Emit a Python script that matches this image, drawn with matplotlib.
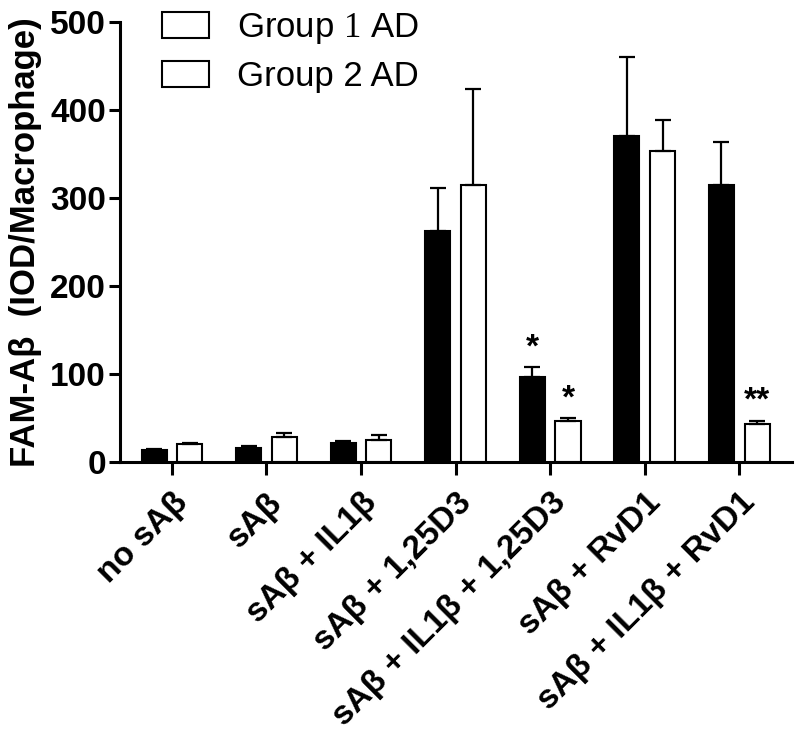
import matplotlib
matplotlib.use("Agg")
import matplotlib.pyplot as plt
import numpy as np
from matplotlib.patches import Patch

plt.rcParams['font.family'] = ['Liberation Sans', 'DejaVu Sans']

categories = ["no sAβ", "sAβ", "sAβ + IL1β", "sAβ + 1,25D3",
              "sAβ + IL1β + 1,25D3", "sAβ + RvD1", "sAβ + IL1β + RvD1"]
group1 = [14, 16, 21, 262, 97, 370, 315]
group1_err = [1, 2, 3, 49, 11, 90, 49]
group2 = [20, 28, 25, 315, 46, 354, 43]
group2_err = [2, 5, 6, 109, 4, 35, 4]
series_names = ["Group 1 AD", "Group 2 AD"]
annot1 = ["", "", "", "", "*", "", ""]
annot2 = ["", "", "", "", "*", "", "**"]
yticks = [0, 100, 200, 300, 400, 500]

fig = plt.figure(figsize=(8.0, 7.39), dpi=100)
ax = fig.add_axes([0.15, 0.375, 0.84, 0.595])

x = np.arange(len(categories))
off = 0.19
w = 0.265
ekw = dict(elinewidth=1.6, capthick=1.6, ecolor='black')
ax.bar(x - off, group1, w, color='black', edgecolor='black', linewidth=1.5,
       yerr=[np.zeros(len(x)), group1_err], capsize=5.5, error_kw=ekw, zorder=2)
ax.bar(x + off, group2, w, color='white', edgecolor='black', linewidth=1.5,
       yerr=[np.zeros(len(x)), group2_err], capsize=5.5, error_kw=ekw, zorder=2)

for i in range(len(x)):
    if annot1[i]:
        ax.text(x[i] - off, group1[i] + group1_err[i] + 4, annot1[i], ha='center', va='bottom',
                fontsize=24, fontweight='bold')
    if annot2[i]:
        ax.text(x[i] + off, group2[i] + group2_err[i] + 4, annot2[i], ha='center', va='bottom',
                fontsize=24, fontweight='bold')

ax.set_xlim(-0.55, 6.56)
ax.set_ylim(0, 500)
ax.set_yticks(yticks)
ax.set_yticklabels([str(t) for t in yticks], fontsize=24, fontweight='bold')
ax.set_xticks(x)
ax.set_xticklabels(categories, rotation=45, ha='right', rotation_mode='anchor',
                   fontsize=24, fontweight='bold')
ax.set_ylabel("FAM-Aβ  (IOD/Macrophage)", fontsize=25, fontweight='bold', labelpad=6)

for s in ['top', 'right']:
    ax.spines[s].set_visible(False)
for s in ['left', 'bottom']:
    ax.spines[s].set_linewidth(2.2)
ax.tick_params(axis='y', length=8, width=2.2, pad=2)
ax.tick_params(axis='x', length=9, width=2.2, pad=9)

plt.rcParams['mathtext.fontset'] = 'custom'
plt.rcParams['mathtext.rm'] = 'Liberation Serif'
handles = [Patch(facecolor='white', edgecolor='black', linewidth=1.5),
           Patch(facecolor='white', edgecolor='black', linewidth=1.5)]
labels = ["Group $\\mathrm{1}$ AD", series_names[1]]
fig.legend(handles, labels, loc='upper left', bbox_to_anchor=(0.2025, 0.985),
           frameon=False, fontsize=25, handlelength=1.35, handleheight=0.8,
           handletextpad=0.8, labelspacing=0.4, borderpad=0, borderaxespad=0)

fig.savefig("out.png", dpi=100)
